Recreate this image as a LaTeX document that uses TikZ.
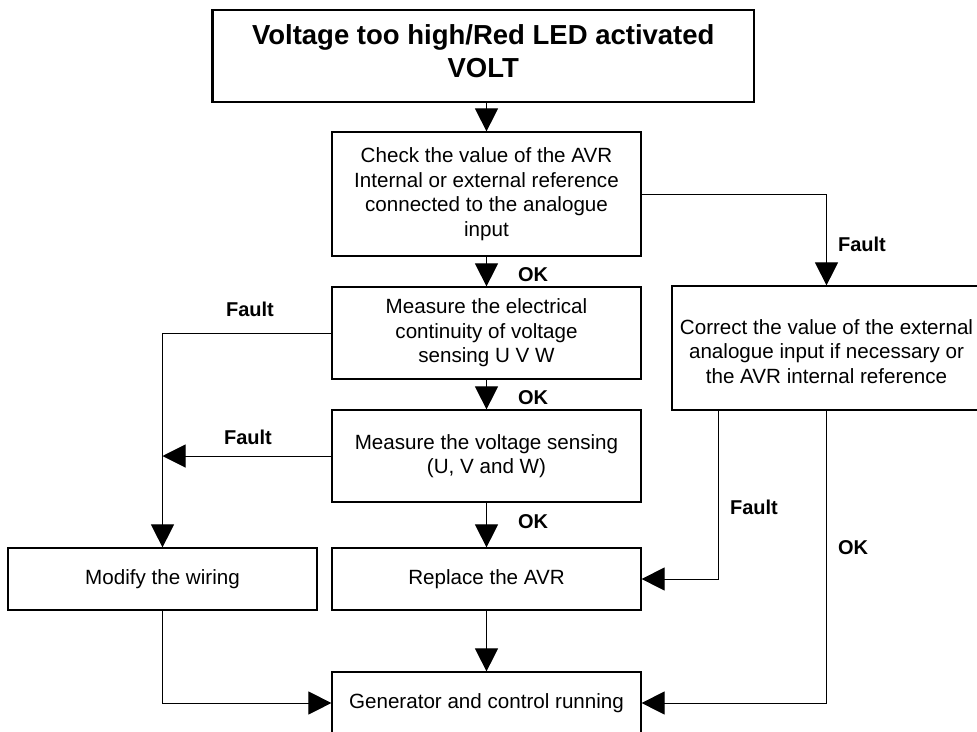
\documentclass[tikz,border=0pt]{standalone}
\usepackage{fontspec}
\setmainfont{Liberation Sans}
\usetikzlibrary{positioning,arrows.meta}

\begin{document}
\begin{tikzpicture}[x=1pt,y=-1pt,line width=1pt,>={Triangle[length=23pt,width=23pt]},
  box/.style={draw,line width=1.2pt,minimum width=309pt,inner sep=0pt,align=center,font=\fontsize{20.6}{24.5}\selectfont},
  lbl/.style={font=\fontsize{20}{24}\selectfont\bfseries}]
\clip (0,0) rectangle (977,731);
% boxes
\node[draw,line width=2.5pt,minimum width=541.5pt,minimum height=92pt,inner sep=0pt,text depth=9pt,align=center,font=\fontsize{27.5}{33}\selectfont\bfseries] (title) at (483.25,56) {Voltage too high/Red LED activated\\VOLT};
\node[box,minimum height=124pt] (check) at (486.5,194) {Check the value of the AVR\\Internal or external reference\\connected to the analogue\\input};
\node[box,minimum height=92pt] (cont) at (486.5,333) {Measure the electrical\\continuity of voltage\\sensing U V W};
\node[box,minimum height=92pt] (sens) at (486.5,456) {Measure the voltage sensing\\(U, V and W)};
\node[box,minimum height=62pt] (repl) at (486.5,579) {Replace the AVR};
\node[box,minimum height=62pt] (gen) at (486.5,703) {Generator and control running};
\node[box,minimum height=62pt] (wiring) at (162.5,579) {Modify the wiring};
\node[box,minimum height=124pt] (corr) at (826.5,348) {\rule{0pt}{22pt}Correct the value of the external\\analogue input if necessary or\\the AVR internal reference};
% connectors
\draw[->] (title.south -| check.north) -- (check.north);
\foreach \a/\b in {check/cont,cont/sens,sens/repl,repl/gen}
  \draw[->] (\a) -- (\b);
\draw[->] (check.east) -| (corr.north);
\draw[->] (cont.west) -| (wiring.north);
\draw[->] (sens.west) -- (sens.west -| wiring.north);
\draw[->] ([xshift=-108.5pt]corr.south) |- (repl.east);
\draw[->] (corr.south) |- (gen.east);
\draw[->] (wiring.south) |- (gen.west);
% labels
\foreach \x/\y/\txt/\nm in {533/275/OK/okA, 533/398/OK/okB, 533/522/OK/okC, 853/548/OK/okD,
  250/309/Fault/faultA, 248/437/Fault/faultB, 862/244/Fault/faultC, 754/507/Fault/faultD}
  \node[lbl] (\nm) at (\x,\y) {\txt};
\end{tikzpicture}
\end{document}
